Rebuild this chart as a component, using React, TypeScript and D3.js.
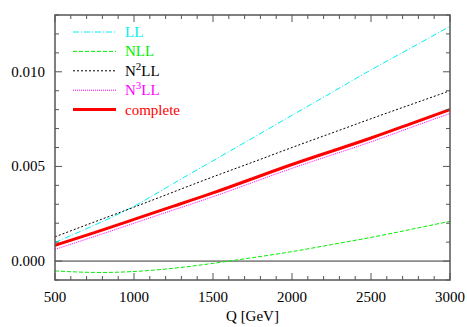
import React from 'react';
import * as d3 from 'd3';

// values, Q in GeV
const qValues = [500, 750, 1000, 1250, 1500, 1750, 2000, 2250, 2500, 2750, 3000];
const llValues = [0.00098, 0.0019, 0.0029, 0.0041, 0.0053, 0.0065, 0.0077, 0.0089, 0.0101, 0.01125, 0.0124];
const nllValues = [-0.00052, -0.0006, -0.00055, -0.00038, -0.00012, 0.00018, 0.0005, 0.00087, 0.00125, 0.00167, 0.0021];
const n2llValues = [0.00128, 0.00207, 0.00285, 0.00365, 0.00445, 0.00522, 0.006, 0.00676, 0.00752, 0.00826, 0.009];
const n3llValues = [0.00062, 0.0013, 0.002, 0.0027, 0.0034, 0.00415, 0.0049, 0.0056, 0.0063, 0.00705, 0.0078];
const completeValues = [0.00083, 0.0015, 0.0022, 0.0029, 0.0036, 0.00435, 0.0051, 0.0058, 0.0065, 0.00725, 0.008];

const xTicks = [500, 1000, 1500, 2000, 2500, 3000];
const yTicks = [0, 0.005, 0.01];

const series = [
  {name: 'LL', sup: '', values: llValues, color: '#00f0f0', width: 1, dash: '6,2,1,2'},
  {name: 'NLL', sup: '', values: nllValues, color: '#00f000', width: 1, dash: '4,2'},
  {name: 'LL', sup: '2', values: n2llValues, color: '#000000', width: 1, dash: '2,2'},
  {name: 'LL', sup: '3', values: n3llValues, color: '#ff00ff', width: 1, dash: '1,1'},
  {name: 'complete', sup: '', values: completeValues, color: '#ff0000', width: 3, dash: ''},
];

const W = 467;
const H = 327;
const margin = {top: 15, right: 17, bottom: 47, left: 55};

const App = () => {
  const x = d3.scaleLinear().domain([500, 3000]).range([margin.left, W - margin.right]);
  const y = d3.scaleLinear().domain([-0.001, 0.013]).range([H - margin.bottom, margin.top]);
  const fontStyle = {fontFamily: "'Liberation Serif', 'Times New Roman', 'DejaVu Serif', serif"};
  const frame = '#555';

  const minorX = d3.range(500, 3001, 100);
  const minorY = d3.range(-0.001, 0.01301, 0.001);

  const line = (vals: number[]) =>
    d3.line<number>()
      .x((_, i) => x(qValues[i]))
      .y((d) => y(d))
      .curve(d3.curveNatural)(vals) || '';

  const x0 = x.range()[0], x1 = x.range()[1];
  const y0 = y.range()[0], y1 = y.range()[1];

  return (
    <svg width={W} height={H} style={{position: 'absolute', left: 0, top: 0, background: '#fff'}}>
      <defs>
        <clipPath id="plot">
          <rect x={x0} y={y1} width={x1 - x0} height={y0 - y1}/>
        </clipPath>
      </defs>
      {/* zero line */}
      <line x1={x0} x2={x1} y1={y(0)} y2={y(0)} stroke="#333" strokeWidth={1}/>
      {/* curves */}
      <g clipPath="url(#plot)" fill="none">
        {series.map((s, i) => (
          <path key={i} d={line(s.values)} stroke={s.color} strokeWidth={s.width}
                strokeDasharray={s.dash || undefined}/>
        ))}
      </g>
      {/* ticks on all sides */}
      <g stroke={frame} strokeWidth={1}>
        {minorX.map((v, i) => {
          const major = xTicks.includes(Math.round(v));
          const len = major ? 7 : 4;
          return (
            <g key={'x' + i}>
              <line x1={x(v)} x2={x(v)} y1={y0} y2={y0 - len}/>
              <line x1={x(v)} x2={x(v)} y1={y1} y2={y1 + len}/>
            </g>
          );
        })}
        {minorY.map((v, i) => {
          const major = yTicks.some((t) => Math.abs(t - v) < 1e-7);
          const len = major ? 7 : 4;
          return (
            <g key={'y' + i}>
              <line x1={x0} x2={x0 + len} y1={y(v)} y2={y(v)}/>
              <line x1={x1} x2={x1 - len} y1={y(v)} y2={y(v)}/>
            </g>
          );
        })}
      </g>
      <rect x={x0} y={y1} width={x1 - x0} height={y0 - y1} fill="none" stroke={frame} strokeWidth={1.5}/>
      {/* tick labels */}
      <g style={fontStyle} fontSize={15} fill="#000">
        {xTicks.map((t) => (
          <text key={t} x={x(t)} y={y0 + 22} textAnchor="middle">{t}</text>
        ))}
        {yTicks.map((t) => (
          <text key={t} x={x0 - 10} y={y(t) + 5} textAnchor="end">{d3.format('.3f')(t)}</text>
        ))}
        <text x={(x0 + x1) / 2} y={y0 + 41} textAnchor="middle">Q [GeV]</text>
      </g>
      {/* legend */}
      <g style={fontStyle} fontSize={15}>
        {series.map((s, i) => {
          const ly = 32 + i * 19.4;
          return (
            <g key={i}>
              <line x1={73} x2={116} y1={ly} y2={ly} stroke={s.color} strokeWidth={s.width}
                    strokeDasharray={s.dash || undefined}/>
              <text x={125} y={ly + 5} fill={s.color}>
                {s.sup ? <>N<tspan dy={-6} fontSize={11}>{s.sup}</tspan><tspan dy={6}>{s.name}</tspan></> : s.name}
              </text>
            </g>
          );
        })}
      </g>
    </svg>
  );
};

export default App;
